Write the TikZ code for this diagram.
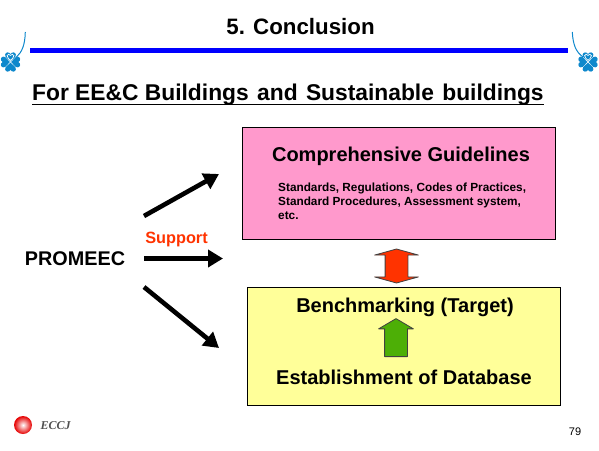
\documentclass[tikz,border=0pt]{standalone}
\usepackage{fontspec}
\setmainfont{Liberation Sans}
\newfontfamily\logofont{Liberation Serif}
\usetikzlibrary{positioning,arrows.meta,shapes.arrows}
\definecolor{TitleBlue}{RGB}{0,0,255}
\definecolor{CloverBlue}{RGB}{14,136,204}
\definecolor{BoxPink}{RGB}{255,153,204}
\definecolor{BoxYellow}{RGB}{255,255,153}
\definecolor{AccentRed}{RGB}{255,51,0}
\definecolor{AccentGreen}{RGB}{77,175,6}
\definecolor{LogoGrey}{RGB}{80,80,80}
\tikzset{
  flow/.style={-{Triangle[length=15pt,width=17pt]},line width=4.6pt,draw=black},
  mainbox/.style={draw=black,line width=0.9pt,minimum width=313pt,inner sep=0pt},
  boxtitle/.style={inner sep=0pt,font=\fontsize{20}{22}\selectfont\bfseries},
  updown/.style={draw=black!75,line width=0.8pt,line join=round,inner sep=11pt}
}
% one clover, four heart shaped leaves round its centre
\newcommand{\cloverleaf}[1]{
  \foreach \ang in {0,90,180,270}{
    \fill[CloverBlue,shift={(#1)},rotate=\ang]
      (0,-0.6) .. controls (-1,-2.5) and (-5.6,-4) .. (-5.4,-7.4)
      .. controls (-5.2,-10) and (-1.2,-10.4) .. (0,-8)
      .. controls (1.2,-10.4) and (5.2,-10) .. (5.4,-7.4)
      .. controls (5.6,-4) and (1,-2.5) .. (0,-0.6) -- cycle;
  }
  \draw[white,line width=0.7pt,shift={(#1)}]
    (0,-1.6) .. controls (-1,-3) and (-3.6,-4) .. (-3.4,-6.4)
    .. controls (-3.2,-8) and (-0.8,-8.2) .. (0,-6.6)
    .. controls (0.8,-8.2) and (3.2,-8) .. (3.4,-6.4)
    .. controls (3.6,-4) and (1,-3) .. (0,-1.6) -- cycle;
}
\begin{document}
\begin{tikzpicture}[x=1pt,y=-1pt]
  \useasboundingbox (0,0) rectangle (599,450);
  % header
  \node[inner sep=0pt,font=\fontsize{22.3}{24}\selectfont\bfseries] (title) at (300.5,27) {5. Conclusion};
  \node[fill=TitleBlue,minimum width=538pt,minimum height=4.8pt,inner sep=0pt] (rule) at (299,50.3) {};
  \cloverleaf{10.5,62}
  \cloverleaf{588,62}
  \coordinate (stemL) at (25.3,32);
  \coordinate (leafL) at (16.5,57);
  \coordinate (stemR) at (572.3,32);
  \coordinate (leafR) at (583,57);
  \draw[CloverBlue,line width=1pt] (stemL) .. controls (25,45) and (22,52) .. (leafL);
  \draw[CloverBlue,line width=1pt] (stemR) .. controls (573,45) and (576,52) .. (leafR);
  \node[inner sep=0pt,font=\fontsize{22.8}{24}\selectfont\bfseries,anchor=base west] (heading) at (32,100)
    {For EE\&C Buildings\hspace{2pt} and\hspace{2pt} Sustainable\hspace{2pt} buildings};
  \draw[line width=1.8pt] ([yshift=0.5pt]heading.south west) -- ([yshift=0.5pt]heading.south east);

  % boxes
  \node[mainbox,fill=BoxPink,minimum height=112pt] (guide) at (398.5,183) {};
  \node[mainbox,fill=BoxYellow,minimum height=118pt] (bench) at (403.5,346) {};
  \node[boxtitle] (guidetitle) at (401,156.5) {Comprehensive Guidelines};
  \node[inner sep=0pt,anchor=north west,align=left,font=\fontsize{11.8}{14}\selectfont\bfseries] (guidetext) at (278,182.5)
    {Standards, Regulations, Codes of Practices,\\
     Standard Procedures, Assessment system,\\
     etc.};
  \node[boxtitle] (target) at (405,307.5) {Benchmarking (Target)};
  \node[boxtitle] (database) at (404,377) {Establishment of Database};

  % block arrows
  \node[double arrow,updown,fill=AccentRed,shape border rotate=90,minimum height=34pt,
    double arrow head extend=10.5pt,double arrow head indent=0pt,double arrow tip angle=149] (link) at (396.5,266) {};
  \node[single arrow,updown,fill=AccentGreen,shape border rotate=90,minimum height=38pt,
    single arrow head extend=6pt,single arrow head indent=0pt,single arrow tip angle=119,anchor=tail] (up) at (396,357) {};

  % left side
  \node[inner sep=0pt,font=\fontsize{19.8}{22}\selectfont\bfseries] (promeec) at (75,258.5) {PROMEEC};
  \node[inner sep=0pt,text=AccentRed,font=\fontsize{16.3}{18}\selectfont\bfseries] (support) at (176.5,239) {Support};
  \coordinate (startA) at (144,216);
  \coordinate (endA) at (219,174);
  \coordinate (startB) at (144,258.5);
  \coordinate (endB) at (223,258.5);
  \coordinate (startC) at (144,287);
  \coordinate (endC) at (219,348);
  \draw[flow] (startA) -- (endA);
  \draw[flow] (startB) -- (endB);
  \draw[flow] (startC) -- (endC);

  % footer
  \shade[inner color=white,middle color=red,outer color=red!90!black] (23,425) circle (9);
  \node[inner sep=0pt,text=LogoGrey,anchor=west,font=\logofont\fontsize{12}{14}\selectfont\bfseries\itshape] (eccj) at (40.5,426) {ECCJ};
  \node[inner sep=0pt,font=\fontsize{11}{13}\selectfont] (page) at (575,431.5) {79};
\end{tikzpicture}
\end{document}
